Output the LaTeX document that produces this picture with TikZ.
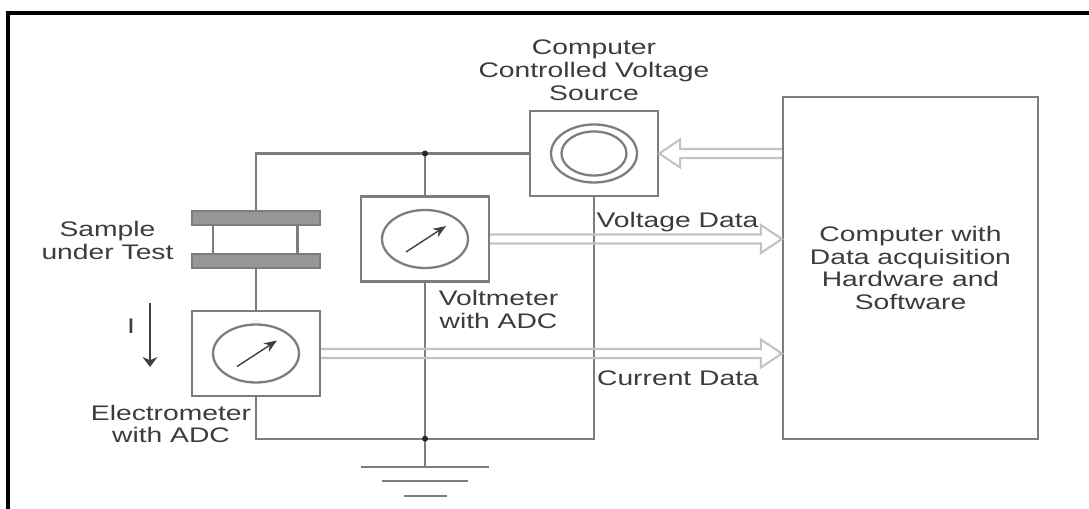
\documentclass[tikz,border=0pt]{standalone}
\usepackage{fontspec}
\setmainfont[FakeStretch=1.34]{Liberation Sans}
\usepackage{tikz}
\usetikzlibrary{arrows.meta}
\usetikzlibrary{calc}
\tikzstyle{diagram} = [x = .02cm, y = -.02cm]
\definecolor{wireColor}{RGB}{125,125,125}
\definecolor{plateColor}{RGB}{150,150,150}
\definecolor{dataColor}{RGB}{195,195,195}
\definecolor{labelColor}{RGB}{60,60,60}
\tikzstyle{wireLine} = [color=wireColor, line width=1.3pt]
\tikzstyle{dataLine} = [color=dataColor, line width=1.2pt]
\tikzstyle{frameLine} = [color=black, line width=2.2pt]
\tikzstyle{meterBox} = [draw=wireColor, line width=1.3pt, fill=white, inner sep=0pt, minimum width=2.56cm, minimum height=1.7cm]
\tikzstyle{plateStyle} = [draw=wireColor, line width=.8pt, fill=plateColor, inner sep=0pt, minimum width=2.56cm, minimum height=.28cm]
\tikzstyle{dotStyle} = [circle, fill=black!85, inner sep=0pt, minimum size=.12cm]
\tikzstyle{labelText} = [text=labelColor, align=center, inner sep=0pt, font=\fontsize{12}{13}\selectfont]
\tikzstyle{needleStyle} = [color=black!75, line width=.8pt, -{Stealth[length=.26cm, width=.2cm]}]
\tikzstyle{currentArrow} = [color=black!75, line width=.8pt, -{Stealth[length=.2cm, width=.3cm]}]
\newcommand{\meterDial}[1]{
  \draw [wireLine] (#1.center) circle [x radius=43, y radius=29];
  \draw [needleStyle] ($(#1.center)+(-19,13)$) -- +(40,-26);
}
\newcommand{\dataArrow}[3]{\draw [dataLine] ($(#1)+(0,-4.5)$) -- ($(#2)+(-21*#3,-4.5)$) -- ($(#2)+(-21*#3,-14)$) -- (#2) -- ($(#2)+(-21*#3,14)$) -- ($(#2)+(-21*#3,4.5)$) -- ($(#1)+(0,4.5)$);}
\begin{document}
\begin{tikzpicture}[diagram]
  \useasboundingbox (0,0) rectangle (1089,509);
  \draw [frameLine] (8,509) -- (8,13) -- (1089,13);

  \node [meterBox] (source) at (594,153.5) {};
  \node [meterBox] (voltmeter) at (425,239) {};
  \node [meterBox] (electrometer) at (256,353.5) {};
  \node [meterBox, minimum width=5.1cm, minimum height=6.84cm, labelText] (computer) at (910.5,268) {Computer with\\Data acquisition\\Hardware and\\Software};
  \node [plateStyle] (upperPlate) at (256,218) {};
  \node [plateStyle] (lowerPlate) at (256,261) {};

  \coordinate (topJoint) at (voltmeter.center |- source.center);
  \coordinate (bottomJoint) at (425,438.7);
  \coordinate (topCorner) at (upperPlate.north |- source.center);
  \coordinate (bottomLeft) at (electrometer.south |- bottomJoint);
  \coordinate (bottomRight) at (source.south |- bottomJoint);
  \coordinate (groundTop) at (425,467);
  \coordinate (voltageTip) at (computer.west |- voltmeter.east);
  \coordinate (currentTip) at (computer.west |- electrometer.east);
  \coordinate (sourceTip) at (source.east);
  \coordinate (sourceTail) at (computer.west |- source.east);
  \coordinate (currentStart) at (150,303);
  \coordinate (currentEnd) at (150,367);

  \draw [wireLine] (source.west) -- (topCorner) -- (upperPlate.north);
  \draw [wireLine] (lowerPlate.south) -- (electrometer.north);
  \draw [wireLine] (electrometer.south) -- (bottomLeft) -- (bottomRight) -- (source.south);
  \draw [wireLine] (topJoint) -- (voltmeter.north);
  \draw [wireLine] (voltmeter.south) -- (groundTop);
  \draw [wireLine] ($(upperPlate.south)+(-43,0)$) -- ($(lowerPlate.north)+(-43,0)$);
  \draw [wireLine] ($(upperPlate.south)+(41.5,0)$) -- ($(lowerPlate.north)+(41.5,0)$);

  \node [dotStyle] (topDot) at (topJoint) {};
  \node [dotStyle] (bottomDot) at (bottomJoint) {};

  \draw [wireLine] (groundTop) +(-64,0) -- +(64,0);
  \draw [wireLine] (groundTop) +(-43,14) -- +(43,14);
  \draw [wireLine] (groundTop) +(-21.5,29) -- +(21.5,29);

  \draw [wireLine] (source.center) circle [x radius=43, y radius=29];
  \draw [wireLine] (source.center) circle [x radius=32.5, y radius=22];
  \meterDial{voltmeter}
  \meterDial{electrometer}

  \dataArrow{voltmeter.east}{voltageTip}{1}
  \dataArrow{electrometer.east}{currentTip}{1}
  \dataArrow{sourceTail}{sourceTip}{-1}

  \draw [currentArrow] (currentStart) -- (currentEnd);

  \node [labelText] (sourceLabel) at (594,70) {Computer\\Controlled Voltage\\Source};
  \node [labelText] (sampleLabel) at (107.5,240.5) {Sample\\under Test};
  \node [labelText] (voltmeterLabel) at (498.5,309.5) {Voltmeter\\with ADC};
  \node [labelText] (electrometerLabel) at (171,424) {Electrometer\\with ADC};
  \node [labelText] (voltageLabel) at (677.5,222) {Voltage Data};
  \node [labelText] (currentLabel) at (678,378) {Current Data};
  \node [labelText] (currentSymbol) at (131,326) {I};
\end{tikzpicture}
\end{document}
